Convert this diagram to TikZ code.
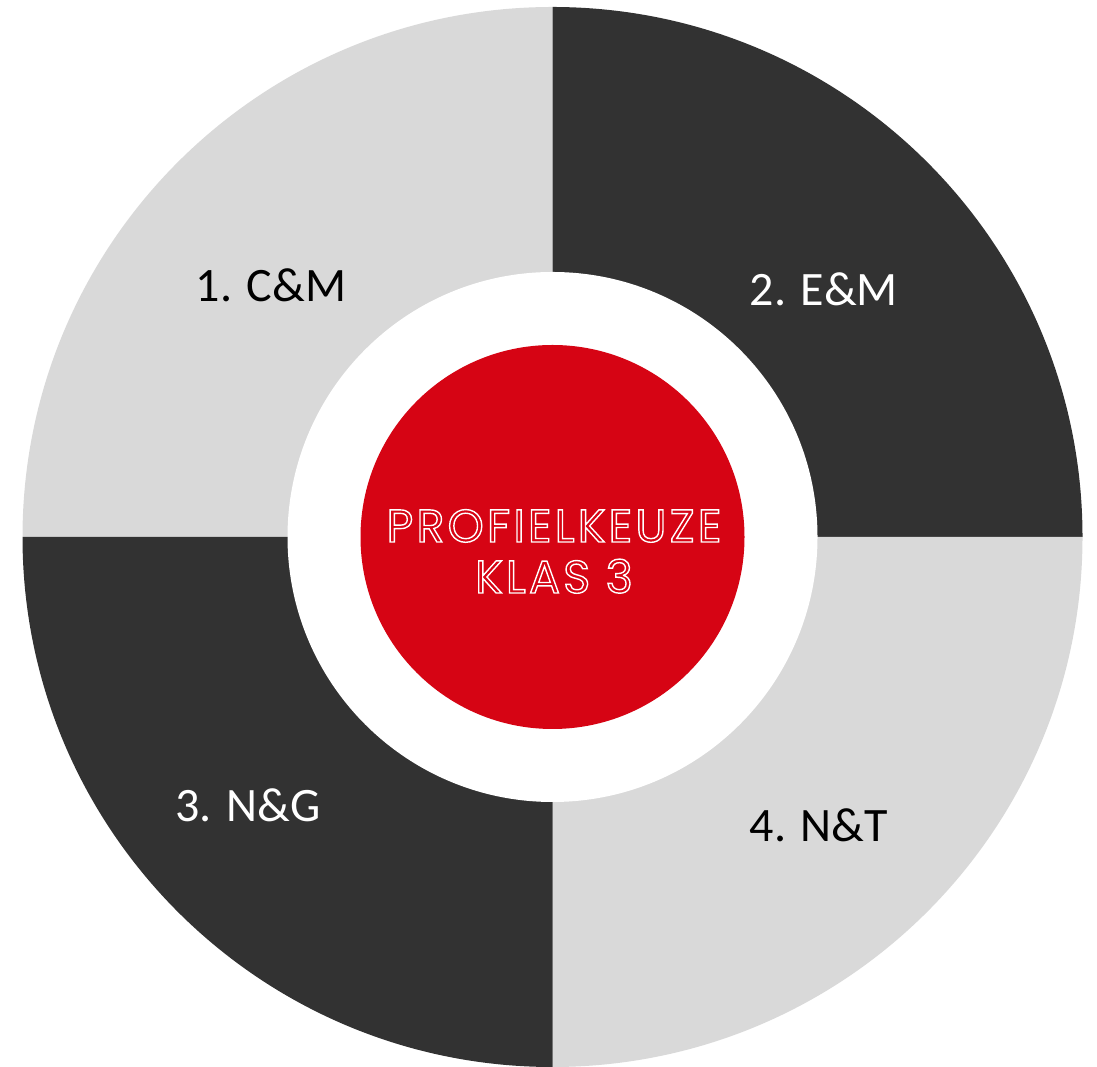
\documentclass[tikz,border=0pt]{standalone}
\usepackage{fontspec}
\setmainfont{Carlito}
\newfontfamily\titlefont[LetterSpace=7]{Poppins}
\definecolor{lightg}{RGB}{217,217,217}
\definecolor{darkg}{RGB}{50,50,50}
\definecolor{hubred}{RGB}{214,4,20}
\newcommand{\outlineon}{\special{pdf:literal direct 1 Tr 1.4 w 1 1 1 RG}}
\newcommand{\outlineoff}{\special{pdf:literal direct 0 Tr}}
\begin{document}
\begin{tikzpicture}[x=1pt,y=1pt,
  lbl/.style={anchor=base,inner sep=0pt,font=\fontsize{48}{56}\selectfont},
  disc/.style={circle,inner sep=0pt,draw=none}]
\useasboundingbox (0,0) rectangle (1097,1067);
\coordinate (c) at (552.5,530);
% quadrants
\fill[lightg] (c) -- ++(180:530) arc[start angle=180,end angle=90,radius=530] -- cycle;
\fill[darkg]  (c) -- ++(90:530) arc[start angle=90,end angle=0,radius=530] -- cycle;
\fill[lightg] (c) -- ++(0:530) arc[start angle=0,end angle=-90,radius=530] -- cycle;
\fill[darkg]  (c) -- ++(270:530) arc[start angle=270,end angle=180,radius=530] -- cycle;
% inner circles
\node[disc,fill=white,minimum size=530pt] (ring) at (c) {};
\node[disc,fill=hubred,minimum size=384pt] (hub) at (c) {};
\node[anchor=base,align=center,inner sep=0pt,text=white,
      font=\titlefont\fontsize{46}{51}\selectfont] (title) at (554,474)
  {\outlineon PROFIELKEUZE\outlineoff\\\outlineon KLAS 3\outlineoff};
% labels
\node[lbl,text=black] (cm) at (271,765) {1. C\&M};
\node[lbl,text=white] (em) at (824,761) {2. E\&M};
\node[lbl,text=white] (ng) at (248,245) {3. N\&G};
\node[lbl,text=black] (nt) at (819,225) {4. N\&T};
\end{tikzpicture}
\end{document}
